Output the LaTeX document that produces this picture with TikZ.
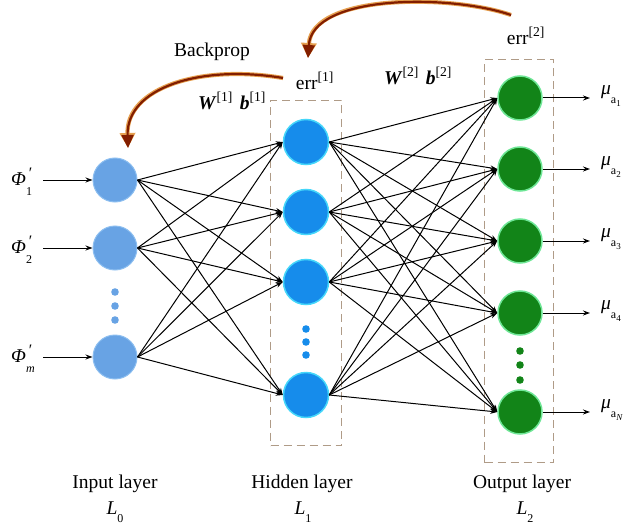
\documentclass[tikz,border=0pt]{standalone}
\usepackage{fontspec}
\setmainfont{Liberation Serif}
\usetikzlibrary{arrows.meta}
\definecolor{inblue}{RGB}{104,163,228}
\definecolor{inedge}{RGB}{140,190,240}
\definecolor{hidblue}{RGB}{22,140,235}
\definecolor{hidglow}{RGB}{70,215,250}
\definecolor{outgreen}{RGB}{18,132,24}
\definecolor{outglow}{RGB}{110,230,150}
\definecolor{boxtan}{RGB}{175,155,135}
\definecolor{bpred}{RGB}{130,30,0}
\definecolor{bporange}{RGB}{230,160,80}
\newcommand{\subsz}{\fontsize{12}{12}\selectfont}
\newcommand{\subsubsz}{\fontsize{9}{9}\selectfont}
\newcommand{\phil}[1]{\textit{Φ}\makebox[0pt][l]{\hspace{0.15em}\raisebox{0.35em}{\fontsize{16}{16}\selectfont ′}}\raisebox{-0.5em}{\subsz #1}\hspace{0.3em}}
\newcommand{\mul}[1]{\textit{μ}\raisebox{-0.45em}{\subsz a\raisebox{-0.25em}{\subsubsz #1}}}
\newcommand{\lsub}[1]{\textit{L}\raisebox{-0.4em}{\subsz #1}}
\begin{document}
\begin{tikzpicture}[x=1pt,y=-1pt,
  font=\fontsize{19.5}{22}\selectfont,
  innode/.style={circle,minimum size=44pt,inner sep=0pt,fill=inblue,draw=inedge,line width=1pt},
  hidnode/.style={circle,minimum size=45pt,inner sep=0pt,fill=hidblue,draw=hidglow,line width=1.5pt},
  outnode/.style={circle,minimum size=44pt,inner sep=0pt,fill=outgreen,draw=outglow,line width=1.5pt},
  conn/.style={black,line width=1pt,-{Stealth[length=7pt,width=5pt]}},
  layerbox/.style={draw=boxtan,line width=1.3pt,dash pattern=on 8pt off 5pt},
  glow/.style={bporange,line width=4.2pt,-{Triangle[length=15pt,width=15pt]}},
  bparrow/.style={bpred,line width=2.2pt,-{Triangle[length=13pt,width=12pt]}},
  lbl/.style={inner sep=0pt,anchor=center}]
\useasboundingbox (0,0) rectangle (626,524);
% layer boxes
\node[layerbox,minimum width=71pt,minimum height=345pt,inner sep=0pt] (hbox) at (306,273) {};
\node[layerbox,minimum width=69pt,minimum height=403pt,inner sep=0pt] (obox) at (519,261) {};
% input nodes
\node[innode] (i1) at (115,180) {};
\node[innode] (i2) at (115,248) {};
\node[innode] (i3) at (115,357) {};
\foreach \y in {292,306,320} \fill[inblue] (115,\y) circle (3.8pt);
% hidden nodes
\node[hidnode] (h1) at (306,142) {};
\node[hidnode] (h2) at (306,212) {};
\node[hidnode] (h3) at (306,282) {};
\node[hidnode] (h4) at (306,395) {};
\foreach \y in {329,342,355} \fill[hidblue] (306,\y) circle (3.8pt);
% output nodes
\node[outnode] (o1) at (520,98) {};
\node[outnode] (o2) at (520,169) {};
\node[outnode] (o3) at (520,241) {};
\node[outnode] (o4) at (520,313) {};
\node[outnode] (o5) at (520,412) {};
\foreach \y in {351,365,380} \fill[outgreen] (520,\y) circle (3.8pt);
% connections
\foreach \a in {i1,i2,i3} \foreach \b in {h1,h2,h3,h4} \draw[conn] (\a.east) -- (\b.west);
\foreach \a in {h1,h2,h3,h4} \foreach \b in {o1,o2,o3,o4,o5} \draw[conn] (\a.east) -- (\b.west);
% input labels and arrows
\node[lbl,anchor=west] (p1) at (11,182) {\phil{1}};
\node[lbl,anchor=west] (p2) at (11,250) {\phil{2}};
\node[lbl,anchor=west] (p3) at (11,359) {\phil{\textit{m}}};
\coordinate (a1) at (43,180);
\coordinate (a2) at (43,248);
\coordinate (a3) at (43,357);
\draw[conn] (a1) -- (i1.west);
\draw[conn] (a2) -- (i2.west);
\draw[conn] (a3) -- (i3.west);
% output labels and arrows
\foreach \k/\s in {1/1,2/2,3/3,4/4,5/\textit{N}} {
  \coordinate (e\k) at (590,0 |- o\k);
  \draw[conn] (o\k.east) -- (e\k);
  \node[lbl,anchor=west] (m\k) at ([xshift=11pt,yshift=2pt]e\k) {\mul{\s}};
}
% layer labels
\node[lbl] (t0) at (115,484) {Input layer};
\node[lbl] (l0) at (115,512) {\lsub{0}};
\node[lbl] (t1) at (302,484) {Hidden layer};
\node[lbl] (l1) at (303,512) {\lsub{1}};
\node[lbl] (t2) at (522,484) {Output layer};
\node[lbl] (l2) at (525,512) {\lsub{2}};
% top labels
\node[lbl] (bp) at (212,52) {Backprop};
\node[lbl] (err1) at (315,81) {err\textsuperscript{[1]}};
\node[lbl] (err2) at (526,36) {err\textsuperscript{[2]}};
\node[lbl] (wb1) at (232,101) {\textbf{\textit{W}}\textsuperscript{[1]}\hspace{0.35em}\textbf{\textit{b}}\textsuperscript{[1]}};
\node[lbl] (wb2) at (418,76) {\textbf{\textit{W}}\textsuperscript{[2]}\hspace{0.35em}\textbf{\textit{b}}\textsuperscript{[2]}};
% backprop arrows
\coordinate (s1) at (283,78);
\coordinate (f1) at (128,148);
\coordinate (s2) at (511,15);
\coordinate (f2) at (308,58);
\draw[glow] (s1) .. controls (200,64) and (126,88) .. (f1);
\draw[bparrow] (s1) .. controls (200,64) and (126,88) .. (f1);
\draw[glow] (s2) .. controls (450,-6) and (312,-6) .. (f2);
\draw[bparrow] (s2) .. controls (450,-6) and (312,-6) .. (f2);
\end{tikzpicture}
\end{document}
